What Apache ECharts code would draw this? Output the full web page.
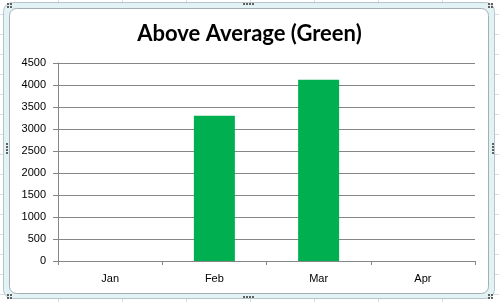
<!DOCTYPE html>
<html><head><meta charset="utf-8">
<script src="https://cdn.jsdelivr.net/npm/echarts@6/dist/echarts.min.js"></script>
<style>html,body{margin:0;padding:0;background:#fff}#c{width:499px;height:302px}</style>
</head><body><div id="c"></div>
<script>
const categories = ['Jan', 'Feb', 'Mar', 'Apr'];
const values = [null, 3300, 4120, null];
const yTicks = [0, 500, 1000, 1500, 2000, 2500, 3000, 3500, 4000, 4500];
const titleText = 'Above Average (Green)';

const chart = echarts.init(document.getElementById('c'), null, {renderer: 'canvas'});
const g = [];
// spreadsheet grid
for (let x = 58; x < 499; x += 64) g.push({type:'line', z:-10, shape:{x1:x+0.5,y1:0,x2:x+0.5,y2:302}, style:{stroke:'#d4dfe6',lineWidth:1}});
for (let y = 14; y < 302; y += 20) g.push({type:'line', z:-10, shape:{x1:0,y1:y+0.5,x2:499,y2:y+0.5}, style:{stroke:'#d4dfe6',lineWidth:1}});
// frame
g.push({type:'rect', z:-5, shape:{x:3.5,y:2.5,width:491,height:296,r:9}, style:{fill:'#e2f2f5',stroke:'#b4c6ca',lineWidth:1}});
g.push({type:'rect', z:-4, shape:{x:9.5,y:8.5,width:479,height:285,r:7}, style:{fill:'#ffffff',stroke:'#a3b0b3',lineWidth:1}});
// handles
function dots(x, y, cols, rows) {
  for (let i = 0; i < cols; i++) for (let j = 0; j < rows; j++)
    g.push({type:'rect', z:-3, shape:{x:x+i*3,y:y+j*3,width:2,height:2}, style:{fill:'#606060'}});
}
dots(7, 3, 2, 2); dots(488, 3, 2, 2); dots(7, 294, 2, 2); dots(488, 294, 2, 2);
dots(243, 3, 4, 1); dots(243, 296, 4, 1); dots(6, 143, 1, 4); dots(492, 143, 1, 4);

chart.setOption({
  animation: false,
  backgroundColor: '#ffffff',
  graphic: g,
  title: {text: titleText, left: 'center', top: 18,
    textStyle: {fontFamily: 'Lato', fontWeight: 'bold', fontSize: 22, color: '#000'}},
  grid: {left: 58, right: 24, top: 63, bottom: 41},
  xAxis: {type: 'category', data: categories,
    axisLine: {lineStyle: {color: '#868686'}},
    axisTick: {show: true, alignWithLabel: false, length: 4, lineStyle: {color: '#868686'}},
    axisLabel: {color: '#000', fontFamily: 'Liberation Sans', fontSize: 11, margin: 12}},
  yAxis: {type: 'value', min: 0, max: 4500, interval: 500,
    axisLine: {show: true, lineStyle: {color: '#868686'}},
    axisTick: {show: true, length: 5, lineStyle: {color: '#868686'}},
    splitLine: {lineStyle: {color: '#868686'}},
    axisLabel: {color: '#000', fontFamily: 'Liberation Sans', fontSize: 11, margin: 12,
      formatter: v => yTicks.includes(v) ? String(v) : ''}},
  series: [{type: 'bar', data: values, barWidth: 41, itemStyle: {color: '#00b050'}}]
});
</script></body></html>
